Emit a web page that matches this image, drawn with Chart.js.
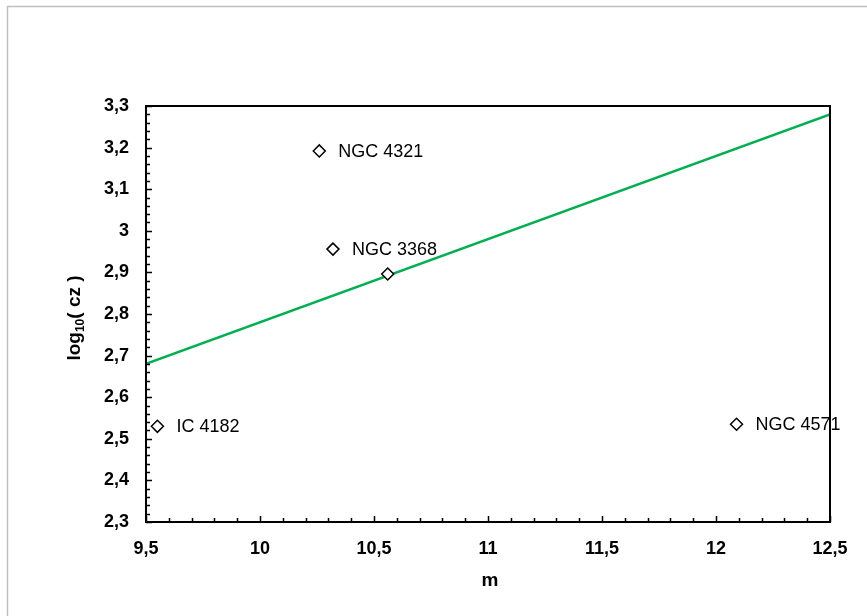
<!DOCTYPE html>
<html>
<head>
<meta charset="utf-8">
<script src="https://cdn.jsdelivr.net/npm/chart.js@4.4.1/dist/chart.umd.min.js"></script>
<style>
  html, body { margin: 0; padding: 0; background: #ffffff; }
  #wrap { width: 867px; height: 616px; position: relative; }
</style>
</head>
<body>
<div id="wrap"><canvas id="c" width="867" height="616"></canvas></div>
<script>
// ---- Data ----
const galaxyNames = ['NGC 4321', 'NGC 3368', '', 'IC 4182', 'NGC 4571'];
const magnitudes  = [10.26, 10.32, 10.56, 9.55, 12.09];
const logCz       = [3.192, 2.956, 2.896, 2.530, 2.535];
const fitX        = [9.5, 12.5];
const fitY        = [2.68, 3.28];
const xTickValues = [9.5, 10, 10.5, 11, 11.5, 12, 12.5];
const xTickLabels = ['9,5', '10', '10,5', '11', '11,5', '12', '12,5'];
const yTickValues = [2.3, 2.4, 2.5, 2.6, 2.7, 2.8, 2.9, 3.0, 3.1, 3.2, 3.3];
const yTickLabels = ['2,3', '2,4', '2,5', '2,6', '2,7', '2,8', '2,9', '3', '3,1', '3,2', '3,3'];

const FONT = "'Liberation Sans', Arial, sans-serif";

function labelFor(values, labels, v) {
  for (let i = 0; i < values.length; i++) {
    if (Math.abs(values[i] - v) < 1e-6) return labels[i];
  }
  return '';
}

const decorPlugin = {
  id: 'decor',
  beforeDraw(chart) {
    const ctx = chart.ctx;
    ctx.save();
    ctx.fillStyle = '#ffffff';
    ctx.fillRect(0, 0, chart.width, chart.height);
    // outer frame (partially visible)
    ctx.strokeStyle = '#bfbfbf';
    ctx.lineWidth = 1.5;
    ctx.beginPath();
    ctx.moveTo(7.5, chart.height + 2);
    ctx.lineTo(7.5, 6.5);
    ctx.lineTo(chart.width + 2, 6.5);
    ctx.stroke();
    ctx.restore();
  },
  afterDatasetsDraw(chart) {
    const ctx = chart.ctx;
    const a = chart.chartArea;
    const xs = chart.scales.x, ys = chart.scales.y;
    ctx.save();
    // chart-area border
    ctx.strokeStyle = '#000000';
    ctx.lineWidth = 2;
    ctx.strokeRect(a.left, a.top, a.right - a.left, a.bottom - a.top);
    // inward ticks
    ctx.lineWidth = 1.5;
    ctx.beginPath();
    for (let i = 0; i <= 30; i++) {
      const v = 9.5 + i * 0.1;
      const px = Math.round(xs.getPixelForValue(v)) + 0.5;
      const len = (i % 5 === 0) ? 6 : 4;
      ctx.moveTo(px, a.bottom);
      ctx.lineTo(px, a.bottom - len);
    }
    for (let i = 0; i <= 50; i++) {
      const v = 2.3 + i * 0.02;
      const py = Math.round(ys.getPixelForValue(v)) + 0.5;
      const len = (i % 5 === 0) ? 6 : 4;
      ctx.moveTo(a.left, py);
      ctx.lineTo(a.left + len, py);
    }
    ctx.stroke();
    // point labels
    ctx.fillStyle = '#000000';
    ctx.font = '18px ' + FONT;
    ctx.textAlign = 'left';
    ctx.textBaseline = 'middle';
    const meta = chart.getDatasetMeta(0);
    meta.data.forEach((pt, i) => {
      if (galaxyNames[i]) ctx.fillText(galaxyNames[i], pt.x + 19, pt.y + 1);
    });
    // y-axis title with subscript
    ctx.translate(73, 318);
    ctx.rotate(-Math.PI / 2);
    const big = 'bold 19px ' + FONT, small = 'bold 12px ' + FONT;
    ctx.font = big; const w1 = ctx.measureText('log').width;
    ctx.font = small; const w2 = ctx.measureText('10').width;
    ctx.font = big; const w3 = ctx.measureText('( cz )').width;
    let x0 = -(w1 + w2 + w3) / 2;
    ctx.textBaseline = 'alphabetic';
    ctx.font = big; ctx.fillText('log', x0, 7);
    ctx.font = small; ctx.fillText('10', x0 + w1, 11);
    ctx.font = big; ctx.fillText('( cz )', x0 + w1 + w2, 7);
    ctx.restore();
    // x-axis title
    ctx.save();
    ctx.fillStyle = '#000000';
    ctx.font = 'bold 19px ' + FONT;
    ctx.textAlign = 'center';
    ctx.textBaseline = 'middle';
    ctx.fillText('m', 490, 581);
    ctx.restore();
  }
};

new Chart(document.getElementById('c'), {
  data: {
    datasets: [
      {
        type: 'scatter',
        label: 'galaxies',
        data: magnitudes.map((m, i) => ({ x: m, y: logCz[i] })),
        pointStyle: 'rectRot',
        pointRadius: 6,
        pointHoverRadius: 6,
        pointBackgroundColor: '#ffffff',
        pointBorderColor: '#000000',
        pointBorderWidth: 1.5,
        order: 0
      },
      {
        type: 'line',
        label: 'fit',
        data: fitX.map((x, i) => ({ x: x, y: fitY[i] })),
        borderColor: '#00b050',
        borderWidth: 2.5,
        pointRadius: 0,
        fill: false,
        order: 1
      }
    ]
  },
  options: {
    responsive: false,
    animation: false,
    layout: { padding: { left: 0, top: 106, right: 37, bottom: 0 } },
    plugins: {
      legend: { display: false },
      tooltip: { enabled: false },
      title: { display: false }
    },
    scales: {
      x: {
        type: 'linear',
        min: 9.5, max: 12.5,
        afterFit(s) { s.height = 94; },
        afterBuildTicks(s) { s.ticks = xTickValues.map(v => ({ value: v })); },
        grid: { display: false, drawTicks: false },
        border: { display: false },
        ticks: {
          padding: 16,
          color: '#000000',
          font: { family: FONT, size: 18, weight: 'bold' },
          callback: (v) => labelFor(xTickValues, xTickLabels, v),
          maxRotation: 0,
          autoSkip: false
        }
      },
      y: {
        type: 'linear',
        min: 2.3, max: 3.3,
        afterFit(s) { s.width = 146; },
        afterBuildTicks(s) { s.ticks = yTickValues.map(v => ({ value: v })); },
        grid: { display: false, drawTicks: false },
        border: { display: false },
        ticks: {
          padding: 17,
          color: '#000000',
          font: { family: FONT, size: 18, weight: 'bold' },
          callback: (v) => labelFor(yTickValues, yTickLabels, v),
          autoSkip: false
        }
      }
    }
  },
  plugins: [decorPlugin]
});
</script>
</body>
</html>
